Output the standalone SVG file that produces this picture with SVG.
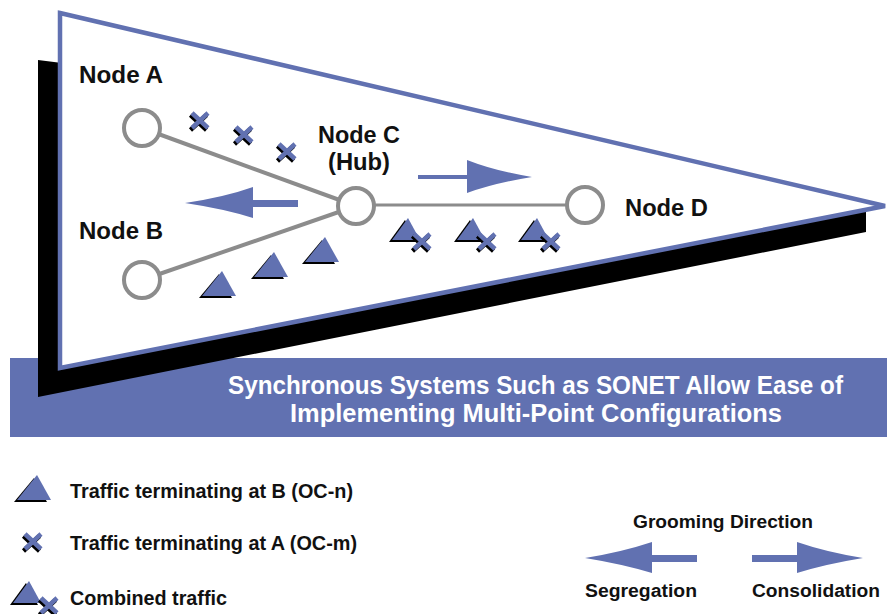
<svg xmlns="http://www.w3.org/2000/svg" width="887" height="614" viewBox="0 0 887 614">
<style>
.lbl{font-family:"Liberation Sans",Arial,sans-serif;font-weight:bold;fill:#111;}
.ban{font-family:"Liberation Sans Narrow","Liberation Sans",Arial,sans-serif;font-weight:bold;fill:#fff;font-size:26px;}
.node{fill:#fff;stroke:#8c8c8c;stroke-width:4;}
.conn{stroke:#8c8c8c;fill:none;}
.blue{fill:#6171b1;}
.xb{stroke:#6171b1;stroke-width:4.5;fill:none;}
.xk{stroke:#000;stroke-width:4.5;fill:none;}
</style>
<defs>
<g id="tri">
<polygon points="-20,2 13,2 0,-22" fill="#000"/>
<polygon points="-17,0 17,0 3,-25" class="blue"/>
</g>
<g id="tris">
<polygon points="-17,2 11,2 -1,-20" fill="#000"/>
<polygon points="-14,0 14,0 2,-22" class="blue"/>
</g>
<g id="xm">
<path d="M-9.5,-6 L6.5,9 M-9.5,9 L6.5,-6" class="xk"/>
<path d="M-8,-8 L8,7 M-8,7 L8,-8" class="xb"/>
</g>
</defs>
<rect width="887" height="614" fill="#fff"/>

<g id="banner">
<rect x="10" y="358" width="877" height="79" class="blue"/>
</g>

<g id="pennant">
<polygon points="38,60 62,63 62,367 866,210 866,232 38,397" fill="#000"/>
<polygon points="60,13 885,206 60,368" fill="#fff" stroke="#6171b1" stroke-width="4.5" stroke-linejoin="miter"/>
</g>

<g id="banner-text">
<text class="ban" x="228" y="394" textLength="615" lengthAdjust="spacingAndGlyphs">Synchronous Systems Such as SONET Allow Ease of</text>
<text class="ban" x="290" y="422" textLength="492" lengthAdjust="spacingAndGlyphs">Implementing Multi-Point Configurations</text>
</g>

<g id="connectors">
<line class="conn" x1="142" y1="128" x2="356" y2="206" stroke-width="4"/>
<line class="conn" x1="142" y1="280" x2="356" y2="206" stroke-width="4"/>
<line class="conn" x1="356" y1="205" x2="585" y2="205" stroke-width="3"/>
</g>

<g id="node-a">
<circle class="node" cx="142" cy="128" r="18"/>
<text class="lbl" x="79" y="83" font-size="23" textLength="84" lengthAdjust="spacingAndGlyphs">Node A</text>
</g>
<g id="node-b">
<circle class="node" cx="142" cy="280" r="18"/>
<text class="lbl" x="79" y="239" font-size="23" textLength="84" lengthAdjust="spacingAndGlyphs">Node B</text>
</g>
<g id="node-c">
<circle class="node" cx="356" cy="206" r="18"/>
<text class="lbl" x="318" y="143" font-size="23" textLength="82" lengthAdjust="spacingAndGlyphs">Node C</text>
<text class="lbl" x="328" y="170" font-size="23" textLength="62" lengthAdjust="spacingAndGlyphs">(Hub)</text>
</g>
<g id="node-d">
<circle class="node" cx="585" cy="205" r="18"/>
<text class="lbl" x="625" y="216" font-size="23" textLength="83" lengthAdjust="spacingAndGlyphs">Node D</text>
</g>

<g id="traffic-a">
<use href="#xm" x="200" y="121"/>
<use href="#xm" x="244" y="135"/>
<use href="#xm" x="287" y="152"/>
</g>
<g id="traffic-b">
<use href="#tri" x="219" y="296"/>
<use href="#tri" x="271" y="277"/>
<use href="#tri" x="322" y="262"/>
</g>
<g id="traffic-combined">
<use href="#tris" x="406" y="240"/>
<use href="#xm" x="422" y="242"/>
<use href="#tris" x="471" y="240"/>
<use href="#xm" x="487" y="242"/>
<use href="#tris" x="535" y="240"/>
<use href="#xm" x="551" y="242"/>
</g>

<g id="arrows">
<path class="blue" d="M185,203 Q225,197 253,187 L253,200 L298,200 L298,207 L253,207 L253,218 Q225,209 185,203 Z"/>
<path class="blue" d="M532,177 Q495,171 467,160 L467,175 L418,175 L418,179 L467,179 L467,193 Q495,183 532,177 Z"/>
</g>

<g id="legend">
<use href="#tri" x="34" y="500"/>
<text class="lbl" x="70" y="498" font-size="20" textLength="283" lengthAdjust="spacingAndGlyphs">Traffic terminating at B (OC-n)</text>
<use href="#xm" x="33" y="542"/>
<text class="lbl" x="70" y="550" font-size="20" textLength="287" lengthAdjust="spacingAndGlyphs">Traffic terminating at A (OC-m)</text>
<use href="#tris" x="27" y="603"/>
<use href="#xm" x="49" y="606"/>
<text class="lbl" x="70" y="605" font-size="20" textLength="157" lengthAdjust="spacingAndGlyphs">Combined traffic</text>
</g>

<g id="grooming">
<text class="lbl" x="633" y="528" font-size="18" textLength="180" lengthAdjust="spacingAndGlyphs">Grooming Direction</text>
<path class="blue" d="M585,558 Q622,552 652,542 L652,555 L697,555 L697,562 L652,562 L652,573 Q622,564 585,558 Z"/>
<path class="blue" d="M863,558 Q826,552 797,542 L797,555 L752,555 L752,562 L797,562 L797,573 Q826,564 863,558 Z"/>
<text class="lbl" x="585" y="597" font-size="18" textLength="112" lengthAdjust="spacingAndGlyphs">Segregation</text>
<text class="lbl" x="752" y="597" font-size="18" textLength="128" lengthAdjust="spacingAndGlyphs">Consolidation</text>
</g>
</svg>
